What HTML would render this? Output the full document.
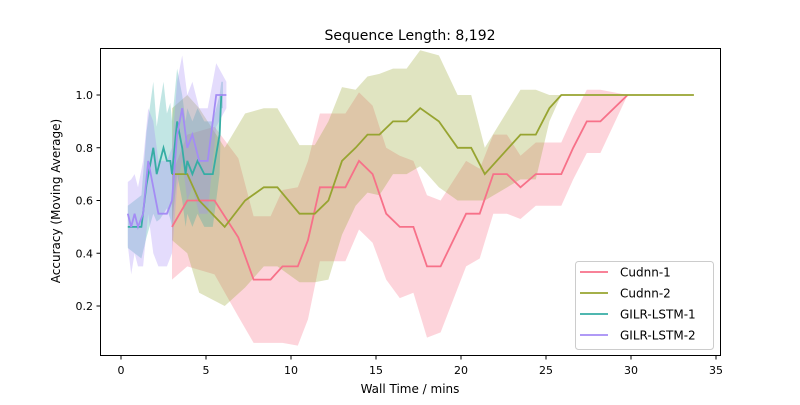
<!DOCTYPE html>
<html><head><meta charset="utf-8"><style>
body{margin:0;background:#fff;font-family:"Liberation Sans","DejaVu Sans",sans-serif}
svg text{font-family:"DejaVu Sans","Liberation Sans",sans-serif}
</style></head><body>
<svg id="chart" width="800" height="400" xmlns="http://www.w3.org/2000/svg">
<rect width="800" height="400" fill="#fff"/>
<g id="bands"></g><g id="lines"></g><g id="axes"></g>
<text x="410" y="40" text-anchor="middle" font-size="14">Sequence Length: 8,192</text>
<text x="410" y="393" text-anchor="middle" font-size="12">Wall Time / mins</text>
<text transform="translate(60,201) rotate(-90)" text-anchor="middle" font-size="12">Accuracy (Moving Average)</text>
<g>
<rect x="575.5" y="261.5" width="138" height="88" rx="3" fill="#fff" fill-opacity="0.8" stroke="#ccc"/>
<g id="legend-items"></g>
</g>
</svg>
<script>
const xTicks=[0,5,10,15,20,25,30,35];
const yTicks=[0.2,0.4,0.6,0.8,1.0];
const seriesNames=["Cudnn-1","Cudnn-2","GILR-LSTM-1","GILR-LSTM-2"];
const seriesColors=["#f77189","#97a431","#36ada4","#a48cf4"];
const c1T=[3.0,3.9,5.5,6.9,7.8,8.8,9.5,10.4,11.0,11.7,13.2,14.0,14.8,15.6,16.4,17.2,18.0,18.8,20.3,21.1,21.9,22.7,23.5,24.4,25.9,26.6,27.4,28.2,29.8];
const c1V=[0.5,0.6,0.6,0.46,0.3,0.3,0.35,0.35,0.45,0.65,0.65,0.75,0.7,0.55,0.5,0.5,0.35,0.35,0.55,0.55,0.7,0.7,0.65,0.7,0.7,0.8,0.9,0.9,1.0];
const c1S=[0.2,0.25,0.28,0.3,0.24,0.24,0.29,0.3,0.3,0.28,0.28,0.26,0.26,0.25,0.27,0.25,0.27,0.25,0.2,0.17,0.15,0.15,0.12,0.12,0.12,0.12,0.12,0.12,0.0];
const c2T=[3.0,3.9,4.6,6.1,7.3,8.4,9.2,10.5,11.4,12.2,13.0,13.8,14.5,15.2,16.0,16.8,17.6,18.7,19.8,20.6,21.4,23.5,24.4,25.2,25.9,33.7];
const c2V=[0.7,0.7,0.6,0.5,0.6,0.65,0.65,0.55,0.55,0.6,0.75,0.8,0.85,0.85,0.9,0.9,0.95,0.9,0.8,0.8,0.7,0.85,0.85,0.95,1.0,1.0];
const c2S=[0.25,0.3,0.35,0.3,0.33,0.3,0.3,0.26,0.26,0.3,0.28,0.22,0.22,0.23,0.2,0.2,0.22,0.25,0.2,0.2,0.1,0.17,0.17,0.05,0.0,0.0];
const g1T=[0.4,1.2,1.5,1.9,2.1,2.3,2.5,2.7,2.9,3.0,3.3,3.6,3.8,3.9,4.2,4.5,4.9,5.2,5.4,5.8,5.9,6.0];
const g1V=[0.5,0.5,0.66,0.8,0.7,0.75,0.8,0.75,0.75,0.7,0.9,0.8,0.7,0.75,0.7,0.75,0.7,0.7,0.7,0.85,1.0,1.0];
const g1S=[0.08,0.12,0.2,0.25,0.18,0.22,0.25,0.18,0.22,0.2,0.2,0.2,0.2,0.2,0.2,0.2,0.2,0.2,0.2,0.15,0.05,0.05];
const g2T=[0.4,0.6,0.8,1.0,1.3,1.6,1.9,2.2,2.7,3.0,3.3,3.6,3.9,4.2,4.6,5.1,5.4,5.6,6.2];
const g2V=[0.55,0.5,0.55,0.5,0.55,0.75,0.65,0.55,0.55,0.6,0.85,0.95,0.8,0.85,0.75,0.75,0.9,1.0,1.0];
const g2S=[0.12,0.18,0.15,0.15,0.2,0.2,0.25,0.2,0.2,0.2,0.2,0.2,0.2,0.2,0.2,0.2,0.15,0.12,0.05];
const seriesT=[c1T,c2T,g1T,g2T], seriesV=[c1V,c2V,g1V,g2V], seriesS=[c1S,c2S,g1S,g2S];
const NS="http://www.w3.org/2000/svg";
const X=t=>121+17*t, Y=v=>95+(1-v)*263.75;
function mk(tag,attrs,parent){const e=document.createElementNS(NS,tag);for(const k in attrs)e.setAttribute(k,attrs[k]);parent.appendChild(e);return e;}
const bands=document.getElementById('bands'),lines=document.getElementById('lines'),axes=document.getElementById('axes'),leg=document.getElementById('legend-items');
for(let s=0;s<4;s++){
  const T=seriesT[s],V=seriesV[s],S=seriesS[s];
  let up=T.map((t,i)=>X(t).toFixed(1)+','+Y(V[i]+S[i]).toFixed(1));
  let lo=T.map((t,i)=>X(t).toFixed(1)+','+Y(V[i]-S[i]).toFixed(1)).reverse();
  const b=mk('polygon',{points:up.concat(lo).join(' '),fill:seriesColors[s],'fill-opacity':0.3},bands);
  
  
}
for(let s=0;s<4;s++){
  const T=seriesT[s],V=seriesV[s];
  const l=mk('polyline',{points:T.map((t,i)=>X(t).toFixed(1)+','+Y(V[i]).toFixed(1)).join(' '),fill:'none',stroke:seriesColors[s],'stroke-width':1.8},lines);
  
  
  const ly=272+s*21;
  const g=mk('g',{},leg);
  
  
  mk('line',{x1:580,x2:608,y1:ly,y2:ly,stroke:seriesColors[s],'stroke-width':1.8},g);
  const tx=mk('text',{x:620,y:ly+4.5,'font-size':12},g);tx.textContent=seriesNames[s];
}
const fr=mk('rect',{x:100.5,y:48.5,width:620,height:307,fill:'none',stroke:'#000','stroke-width':1},axes);


xTicks.forEach(t=>{mk('line',{x1:X(t),x2:X(t),y1:356,y2:359.5,stroke:'#000'},axes);
  const tx=mk('text',{x:X(t),y:374,'text-anchor':'middle','font-size':11},axes);tx.textContent=t;
  
  });
yTicks.forEach(v=>{mk('line',{x1:96.5,x2:100,y1:Y(v),y2:Y(v),stroke:'#000'},axes);
  const tx=mk('text',{x:93,y:Y(v)+4,'text-anchor':'end','font-size':11},axes);tx.textContent=v.toFixed(1);
  
  });
</script>
</body></html>
